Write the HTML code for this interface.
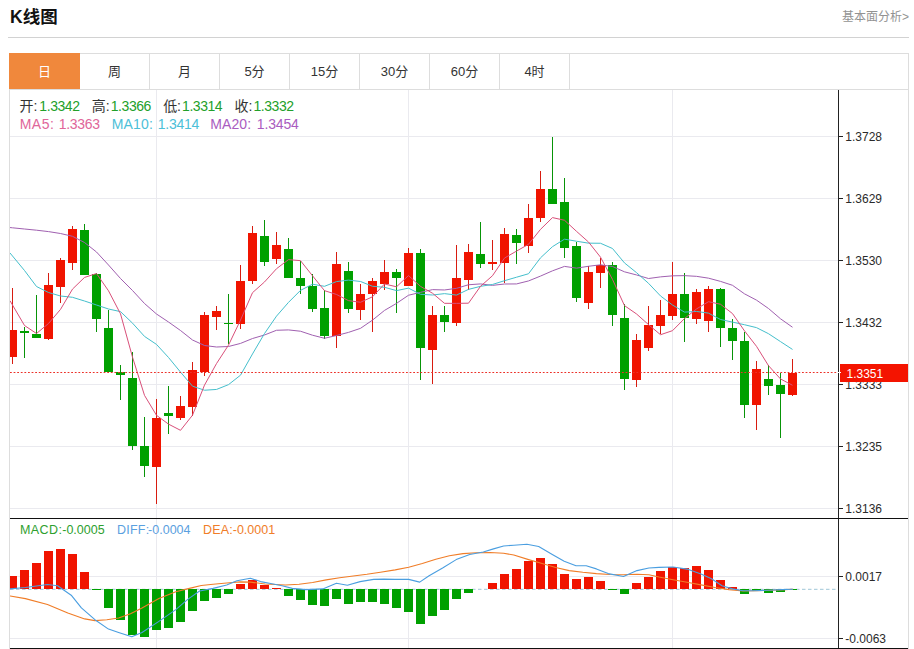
<!DOCTYPE html>
<html><head><meta charset="utf-8"><title>K线图</title>
<style>
*{margin:0;padding:0;box-sizing:border-box}
html,body{width:914px;height:649px;overflow:hidden;background:#fff}
body{position:relative;font-family:"Liberation Sans","Noto Sans CJK SC",sans-serif;color:#333}
.title{position:absolute;left:10px;top:5.6px;font-size:17.5px;font-weight:bold;color:#111;line-height:22px;letter-spacing:0}
.more{position:absolute;right:5px;top:9.5px;font-size:12px;color:#929292;line-height:14px}
.hr{position:absolute;left:8px;top:37px;width:901px;height:1px;background:#d2d2d2}
.box{position:absolute;left:9px;top:53px;width:900px;height:596px;border:1px solid #ddd;border-bottom:none}
.tabs{position:absolute;left:10px;top:54px;width:898px;height:36px;border-bottom:1px solid #ddd}
.tab{position:absolute;top:0;width:70px;height:35px;border-right:1px solid #ddd;text-align:center;line-height:35px;font-size:13px;color:#333}
.tab.on{background:#f0883c;color:#fff;border-right-color:#f0883c;left:-1px!important;top:-1px;width:71px;height:36px;line-height:37px;padding-left:1px}
svg{position:absolute;left:0;top:0}
.al{font-family:"Liberation Sans",sans-serif;font-size:12px;fill:#2a2a2a}
.ip{position:absolute;line-height:18px;white-space:nowrap}
</style></head><body>
<div class="title">K线图</div>
<div class="more">基本面分析&gt;</div>
<div class="hr"></div>
<div class="box"></div>
<div class="tabs"><div class="tab on" style="left:0px">日</div><div class="tab" style="left:70px">周</div><div class="tab" style="left:140px">月</div><div class="tab" style="left:210px">5分</div><div class="tab" style="left:280px">15分</div><div class="tab" style="left:350px">30分</div><div class="tab" style="left:420px">60分</div><div class="tab" style="left:490px">4时</div></div>
<svg width="914" height="649" viewBox="0 0 914 649">
<rect x="10" y="136" width="828" height="1" fill="#eaeaef"/>
<rect x="10" y="198" width="828" height="1" fill="#eaeaef"/>
<rect x="10" y="260" width="828" height="1" fill="#eaeaef"/>
<rect x="10" y="322" width="828" height="1" fill="#eaeaef"/>
<rect x="10" y="384" width="828" height="1" fill="#eaeaef"/>
<rect x="10" y="446" width="828" height="1" fill="#eaeaef"/>
<rect x="10" y="508" width="828" height="1" fill="#eaeaef"/>
<rect x="10" y="576" width="828" height="1" fill="#eaeaef"/>
<rect x="10" y="638" width="828" height="1" fill="#eaeaef"/>
<rect x="156" y="90" width="1" height="558" fill="#eaeaef"/>
<rect x="408" y="90" width="1" height="558" fill="#eaeaef"/>
<rect x="672" y="90" width="1" height="558" fill="#eaeaef"/>
<defs><clipPath id="cp"><rect x="10" y="90" width="828" height="428"/></clipPath><clipPath id="cp2"><rect x="10" y="519" width="828" height="129"/></clipPath></defs>
<g clip-path="url(#cp)" shape-rendering="crispEdges">
<rect x="12" y="288" width="1" height="76" fill="#d81c10"/>
<rect x="8" y="330" width="9" height="27" fill="#f01400"/>
<rect x="24" y="327" width="1" height="31" fill="#089408"/>
<rect x="20" y="331" width="9" height="2" fill="#00a000"/>
<rect x="36" y="295" width="1" height="43" fill="#089408"/>
<rect x="32" y="334" width="9" height="4" fill="#00a000"/>
<rect x="48" y="273" width="1" height="67" fill="#d81c10"/>
<rect x="44" y="285" width="9" height="54" fill="#f01400"/>
<rect x="60" y="258" width="1" height="45" fill="#d81c10"/>
<rect x="56" y="260" width="9" height="27" fill="#f01400"/>
<rect x="72" y="226" width="1" height="44" fill="#d81c10"/>
<rect x="68" y="229" width="9" height="34" fill="#f01400"/>
<rect x="84" y="224" width="1" height="51" fill="#089408"/>
<rect x="80" y="230" width="9" height="45" fill="#00a000"/>
<rect x="96" y="273" width="1" height="59" fill="#089408"/>
<rect x="92" y="274" width="9" height="45" fill="#00a000"/>
<rect x="108" y="310" width="1" height="62" fill="#089408"/>
<rect x="104" y="328" width="9" height="44" fill="#00a000"/>
<rect x="120" y="365" width="1" height="35" fill="#089408"/>
<rect x="116" y="372" width="9" height="3" fill="#00a000"/>
<rect x="132" y="352" width="1" height="98" fill="#089408"/>
<rect x="128" y="378" width="9" height="68" fill="#00a000"/>
<rect x="144" y="417" width="1" height="60" fill="#089408"/>
<rect x="140" y="446" width="9" height="20" fill="#00a000"/>
<rect x="156" y="399" width="1" height="105" fill="#d81c10"/>
<rect x="152" y="418" width="9" height="49" fill="#f01400"/>
<rect x="168" y="386" width="1" height="48" fill="#089408"/>
<rect x="164" y="413" width="9" height="3" fill="#00a000"/>
<rect x="180" y="396" width="1" height="24" fill="#d81c10"/>
<rect x="176" y="406" width="9" height="12" fill="#f01400"/>
<rect x="192" y="362" width="1" height="54" fill="#d81c10"/>
<rect x="188" y="370" width="9" height="37" fill="#f01400"/>
<rect x="204" y="312" width="1" height="64" fill="#d81c10"/>
<rect x="200" y="315" width="9" height="57" fill="#f01400"/>
<rect x="216" y="306" width="1" height="24" fill="#d81c10"/>
<rect x="212" y="311" width="9" height="6" fill="#f01400"/>
<rect x="228" y="294" width="1" height="50" fill="#089408"/>
<rect x="224" y="323" width="9" height="1" fill="#00a000"/>
<rect x="240" y="265" width="1" height="64" fill="#d81c10"/>
<rect x="236" y="281" width="9" height="43" fill="#f01400"/>
<rect x="252" y="226" width="1" height="58" fill="#d81c10"/>
<rect x="248" y="233" width="9" height="48" fill="#f01400"/>
<rect x="264" y="220" width="1" height="46" fill="#089408"/>
<rect x="260" y="236" width="9" height="26" fill="#00a000"/>
<rect x="276" y="232" width="1" height="32" fill="#d81c10"/>
<rect x="272" y="245" width="9" height="14" fill="#f01400"/>
<rect x="288" y="238" width="1" height="40" fill="#089408"/>
<rect x="284" y="249" width="9" height="29" fill="#00a000"/>
<rect x="300" y="261" width="1" height="33" fill="#089408"/>
<rect x="296" y="278" width="9" height="8" fill="#00a000"/>
<rect x="312" y="274" width="1" height="38" fill="#089408"/>
<rect x="308" y="286" width="9" height="23" fill="#00a000"/>
<rect x="324" y="290" width="1" height="49" fill="#089408"/>
<rect x="320" y="308" width="9" height="28" fill="#00a000"/>
<rect x="336" y="252" width="1" height="96" fill="#d81c10"/>
<rect x="332" y="264" width="9" height="72" fill="#f01400"/>
<rect x="348" y="262" width="1" height="51" fill="#089408"/>
<rect x="344" y="271" width="9" height="38" fill="#00a000"/>
<rect x="360" y="284" width="1" height="36" fill="#d81c10"/>
<rect x="356" y="294" width="9" height="16" fill="#f01400"/>
<rect x="372" y="278" width="1" height="54" fill="#d81c10"/>
<rect x="368" y="281" width="9" height="13" fill="#f01400"/>
<rect x="384" y="260" width="1" height="30" fill="#d81c10"/>
<rect x="380" y="272" width="9" height="12" fill="#f01400"/>
<rect x="396" y="269" width="1" height="44" fill="#089408"/>
<rect x="392" y="272" width="9" height="6" fill="#00a000"/>
<rect x="408" y="248" width="1" height="38" fill="#d81c10"/>
<rect x="404" y="253" width="9" height="33" fill="#f01400"/>
<rect x="420" y="249" width="1" height="131" fill="#089408"/>
<rect x="416" y="253" width="9" height="95" fill="#00a000"/>
<rect x="432" y="306" width="1" height="78" fill="#d81c10"/>
<rect x="428" y="315" width="9" height="35" fill="#f01400"/>
<rect x="444" y="306" width="1" height="26" fill="#089408"/>
<rect x="440" y="315" width="9" height="7" fill="#00a000"/>
<rect x="456" y="245" width="1" height="81" fill="#d81c10"/>
<rect x="452" y="278" width="9" height="45" fill="#f01400"/>
<rect x="468" y="244" width="1" height="46" fill="#d81c10"/>
<rect x="464" y="252" width="9" height="28" fill="#f01400"/>
<rect x="480" y="222" width="1" height="46" fill="#089408"/>
<rect x="476" y="254" width="9" height="10" fill="#00a000"/>
<rect x="492" y="240" width="1" height="30" fill="#d81c10"/>
<rect x="488" y="262" width="9" height="2" fill="#f01400"/>
<rect x="504" y="228" width="1" height="55" fill="#d81c10"/>
<rect x="500" y="234" width="9" height="29" fill="#f01400"/>
<rect x="516" y="229" width="1" height="35" fill="#089408"/>
<rect x="512" y="235" width="9" height="8" fill="#00a000"/>
<rect x="528" y="204" width="1" height="49" fill="#d81c10"/>
<rect x="524" y="218" width="9" height="28" fill="#f01400"/>
<rect x="540" y="171" width="1" height="51" fill="#d81c10"/>
<rect x="536" y="189" width="9" height="29" fill="#f01400"/>
<rect x="552" y="137" width="1" height="67" fill="#089408"/>
<rect x="548" y="189" width="9" height="15" fill="#00a000"/>
<rect x="564" y="178" width="1" height="80" fill="#089408"/>
<rect x="560" y="202" width="9" height="46" fill="#00a000"/>
<rect x="576" y="242" width="1" height="60" fill="#089408"/>
<rect x="572" y="246" width="9" height="52" fill="#00a000"/>
<rect x="588" y="266" width="1" height="43" fill="#d81c10"/>
<rect x="584" y="272" width="9" height="31" fill="#f01400"/>
<rect x="600" y="258" width="1" height="30" fill="#d81c10"/>
<rect x="596" y="265" width="9" height="8" fill="#f01400"/>
<rect x="612" y="262" width="1" height="64" fill="#089408"/>
<rect x="608" y="265" width="9" height="50" fill="#00a000"/>
<rect x="624" y="304" width="1" height="86" fill="#089408"/>
<rect x="620" y="318" width="9" height="61" fill="#00a000"/>
<rect x="636" y="334" width="1" height="53" fill="#d81c10"/>
<rect x="632" y="340" width="9" height="40" fill="#f01400"/>
<rect x="648" y="306" width="1" height="45" fill="#d81c10"/>
<rect x="644" y="325" width="9" height="23" fill="#f01400"/>
<rect x="660" y="300" width="1" height="34" fill="#d81c10"/>
<rect x="656" y="315" width="9" height="11" fill="#f01400"/>
<rect x="672" y="262" width="1" height="58" fill="#d81c10"/>
<rect x="668" y="294" width="9" height="22" fill="#f01400"/>
<rect x="684" y="273" width="1" height="69" fill="#089408"/>
<rect x="680" y="294" width="9" height="24" fill="#00a000"/>
<rect x="696" y="289" width="1" height="35" fill="#d81c10"/>
<rect x="692" y="292" width="9" height="27" fill="#f01400"/>
<rect x="708" y="286" width="1" height="46" fill="#d81c10"/>
<rect x="704" y="289" width="9" height="32" fill="#f01400"/>
<rect x="720" y="288" width="1" height="59" fill="#089408"/>
<rect x="716" y="289" width="9" height="39" fill="#00a000"/>
<rect x="732" y="319" width="1" height="41" fill="#089408"/>
<rect x="728" y="328" width="9" height="13" fill="#00a000"/>
<rect x="744" y="332" width="1" height="86" fill="#089408"/>
<rect x="740" y="341" width="9" height="64" fill="#00a000"/>
<rect x="756" y="361" width="1" height="69" fill="#d81c10"/>
<rect x="752" y="369" width="9" height="36" fill="#f01400"/>
<rect x="768" y="365" width="1" height="30" fill="#089408"/>
<rect x="764" y="379" width="9" height="7" fill="#00a000"/>
<rect x="780" y="373" width="1" height="65" fill="#089408"/>
<rect x="776" y="385" width="9" height="9" fill="#00a000"/>
<rect x="792" y="359" width="1" height="37" fill="#d81c10"/>
<rect x="788" y="373" width="9" height="22" fill="#f01400"/>
</g>
<g clip-path="url(#cp)">
<polyline points="10,227.55 12.5,227.8 24.5,229 36.5,230.2 48.5,231.6 60.5,233.5 72.5,236.3 84.5,242.5 96.5,252 108.5,265 120.5,278.5 132.5,290.5 144.5,303.5 156.5,314 168.5,322 180.5,330.5 192.5,340 204.5,345.5 216.5,347 228.5,346.5 240.5,343.41 252.5,338.53 264.5,334.97 276.5,330.28 288.5,329.92 300.5,331.23 312.5,335.21 324.5,338.27 336.5,335.51 348.5,332.38 360.5,328.33 372.5,320.11 384.5,310.42 396.5,303.38 408.5,295.24 420.5,292.35 432.5,289.62 444.5,289.98 456.5,288.33 468.5,284.75 480.5,283.91 492.5,285.37 504.5,284 516.5,283.93 528.5,280.94 540.5,276.08 552.5,270.82 564.5,266.4 576.5,268.15 588.5,266.28 600.5,264.8 612.5,266.49 624.5,271.82 636.5,274.94 648.5,278.53 660.5,276.89 672.5,275.84 684.5,275.63 696.5,276.33 708.5,278.16 720.5,281.38 732.5,285.31 744.5,293.83 756.5,300.14 768.5,308.5 780.5,318.77 792.5,327.24" fill="none" stroke="#a060b0" stroke-width="1" stroke-linejoin="round"/>
<polyline points="10,252.98 12.5,256 24.5,270.5 36.5,286.5 48.5,292.5 60.5,296 72.5,297.3 84.5,301 96.5,305 108.5,309 120.5,311.62 132.5,323.13 144.5,336.4 156.5,344.41 168.5,357.46 180.5,372.08 192.5,386.18 204.5,390.23 216.5,389.44 228.5,384.63 240.5,375.2 252.5,353.94 264.5,333.53 276.5,316.15 288.5,302.37 300.5,290.37 312.5,284.23 324.5,286.31 336.5,281.58 348.5,280.12 360.5,281.47 372.5,286.28 384.5,287.31 396.5,290.62 408.5,288.11 420.5,294.32 432.5,295 444.5,293.64 456.5,295.08 468.5,289.39 480.5,286.34 492.5,284.46 504.5,280.69 516.5,277.23 528.5,273.76 540.5,257.84 552.5,246.65 564.5,239.16 576.5,241.22 588.5,243.17 600.5,243.26 612.5,248.51 624.5,262.95 636.5,272.64 648.5,283.31 660.5,295.94 672.5,305.04 684.5,312.1 696.5,311.44 708.5,313.15 720.5,319.49 732.5,322.12 744.5,324.72 756.5,327.64 768.5,333.69 780.5,341.6 792.5,349.43" fill="none" stroke="#45bfcc" stroke-width="1" stroke-linejoin="round"/>
<polyline points="10,300.73 12.5,305 24.5,325.5 36.5,333.5 48.5,323.5 60.5,309.4 72.5,289.1 84.5,277.44 96.5,273.52 108.5,290.8 120.5,313.84 132.5,357.16 144.5,395.36 156.5,415.3 168.5,424.12 180.5,430.32 192.5,415.2 204.5,385.1 216.5,363.58 228.5,345.14 240.5,320.08 252.5,292.68 264.5,281.96 276.5,268.72 288.5,259.6 300.5,260.66 312.5,275.78 324.5,290.66 336.5,294.44 348.5,300.64 360.5,302.28 372.5,296.78 384.5,283.96 396.5,286.8 408.5,275.58 420.5,286.36 432.5,293.22 444.5,303.32 456.5,303.36 468.5,303.2 480.5,286.32 492.5,275.7 504.5,258.06 516.5,251.1 528.5,244.32 540.5,229.36 552.5,217.6 564.5,220.26 576.5,231.34 588.5,242.02 600.5,257.16 612.5,279.42 624.5,305.64 636.5,313.94 648.5,324.6 660.5,334.72 672.5,330.66 684.5,318.56 696.5,308.94 708.5,301.7 720.5,304.26 732.5,313.58 744.5,330.88 756.5,346.34 768.5,365.68 780.5,378.94 792.5,385.28" fill="none" stroke="#d9507a" stroke-width="1" stroke-linejoin="round"/>
</g>
<line x1="10" y1="372.5" x2="838" y2="372.5" stroke="#ec3028" stroke-width="1" stroke-dasharray="1.8 1.8"/>
<g clip-path="url(#cp2)" shape-rendering="crispEdges">
<line x1="10" y1="589.3" x2="838" y2="589.3" stroke="#9fc6d8" stroke-width="1" stroke-dasharray="3.5 2.5" shape-rendering="auto"/>
<rect x="8" y="576" width="9" height="13" fill="#f01400"/>
<rect x="20" y="570" width="9" height="19" fill="#f01400"/>
<rect x="32" y="563" width="9" height="26" fill="#f01400"/>
<rect x="44" y="551" width="9" height="38" fill="#f01400"/>
<rect x="56" y="549" width="9" height="40" fill="#f01400"/>
<rect x="68" y="554" width="9" height="35" fill="#f01400"/>
<rect x="80" y="572" width="9" height="17" fill="#f01400"/>
<rect x="92" y="589" width="9" height="1" fill="#00a000"/>
<rect x="104" y="589" width="9" height="19" fill="#00a000"/>
<rect x="116" y="589" width="9" height="31" fill="#00a000"/>
<rect x="128" y="589" width="9" height="46" fill="#00a000"/>
<rect x="140" y="589" width="9" height="48" fill="#00a000"/>
<rect x="152" y="589" width="9" height="41" fill="#00a000"/>
<rect x="164" y="589" width="9" height="39" fill="#00a000"/>
<rect x="176" y="589" width="9" height="33" fill="#00a000"/>
<rect x="188" y="589" width="9" height="22" fill="#00a000"/>
<rect x="200" y="589" width="9" height="12" fill="#00a000"/>
<rect x="212" y="589" width="9" height="9" fill="#00a000"/>
<rect x="224" y="589" width="9" height="5" fill="#00a000"/>
<rect x="236" y="584" width="9" height="5" fill="#f01400"/>
<rect x="248" y="580" width="9" height="9" fill="#f01400"/>
<rect x="260" y="585" width="9" height="4" fill="#f01400"/>
<rect x="272" y="588" width="9" height="1" fill="#f01400"/>
<rect x="284" y="589" width="9" height="7" fill="#00a000"/>
<rect x="296" y="589" width="9" height="11" fill="#00a000"/>
<rect x="308" y="589" width="9" height="16" fill="#00a000"/>
<rect x="320" y="589" width="9" height="17" fill="#00a000"/>
<rect x="332" y="589" width="9" height="10" fill="#00a000"/>
<rect x="344" y="589" width="9" height="15" fill="#00a000"/>
<rect x="356" y="589" width="9" height="13" fill="#00a000"/>
<rect x="368" y="589" width="9" height="13" fill="#00a000"/>
<rect x="380" y="589" width="9" height="15" fill="#00a000"/>
<rect x="392" y="589" width="9" height="19" fill="#00a000"/>
<rect x="404" y="589" width="9" height="23" fill="#00a000"/>
<rect x="416" y="589" width="9" height="35" fill="#00a000"/>
<rect x="428" y="589" width="9" height="27" fill="#00a000"/>
<rect x="440" y="589" width="9" height="21" fill="#00a000"/>
<rect x="452" y="589" width="9" height="10" fill="#00a000"/>
<rect x="464" y="589" width="9" height="4" fill="#00a000"/>
<rect x="488" y="583" width="9" height="6" fill="#f01400"/>
<rect x="500" y="574" width="9" height="15" fill="#f01400"/>
<rect x="512" y="569" width="9" height="20" fill="#f01400"/>
<rect x="524" y="561" width="9" height="28" fill="#f01400"/>
<rect x="536" y="558" width="9" height="31" fill="#f01400"/>
<rect x="548" y="564" width="9" height="25" fill="#f01400"/>
<rect x="560" y="574" width="9" height="15" fill="#f01400"/>
<rect x="572" y="579" width="9" height="10" fill="#f01400"/>
<rect x="584" y="577" width="9" height="12" fill="#f01400"/>
<rect x="596" y="581" width="9" height="8" fill="#f01400"/>
<rect x="608" y="589" width="9" height="1" fill="#00a000"/>
<rect x="620" y="589" width="9" height="5" fill="#00a000"/>
<rect x="632" y="583" width="9" height="6" fill="#f01400"/>
<rect x="644" y="577" width="9" height="12" fill="#f01400"/>
<rect x="656" y="571" width="9" height="18" fill="#f01400"/>
<rect x="668" y="567" width="9" height="22" fill="#f01400"/>
<rect x="680" y="568" width="9" height="21" fill="#f01400"/>
<rect x="692" y="566" width="9" height="23" fill="#f01400"/>
<rect x="704" y="570" width="9" height="19" fill="#f01400"/>
<rect x="716" y="580" width="9" height="9" fill="#f01400"/>
<rect x="728" y="587" width="9" height="2" fill="#f01400"/>
<rect x="740" y="589" width="9" height="5" fill="#00a000"/>
<rect x="752" y="589" width="9" height="2" fill="#00a000"/>
<rect x="764" y="589" width="9" height="4" fill="#00a000"/>
<rect x="776" y="589" width="9" height="3" fill="#00a000"/>
<rect x="788" y="589" width="9" height="1" fill="#00a000"/>
</g>
<g clip-path="url(#cp2)">
<polyline points="10.2,596 25.4,598.6 47.5,604.5 67.8,613 84.7,618.9 94.9,620.6 106.8,619.7 118.6,618 130.5,613.8 142,607.9 158.9,598.6 175.8,591.8 189.4,588.4 201.3,585.5 213.1,584.2 226.7,583 240.3,581.9 250.4,582.1 265,584 285.5,585 299.1,584.2 312.6,582.5 326.2,579.9 339.7,577.7 353.3,576 366.9,574.3 380.4,572.3 395.2,569.9 408.7,567.2 422.3,563.5 435.8,559.2 449.4,555.7 463,553.6 476.5,552.8 490.1,552.5 503.6,553.3 513.8,555 528.6,559.6 542.1,563.5 555.7,567.5 569.2,570.6 582.8,572.3 596.4,573.6 609.9,574.5 623.5,574.8 637,574.3 648.9,574.8 659,577 673,579.7 687,582.3 701,584.9 715,587.5 729,589.6 743,591 757,590.7 771,590.2 785,589.6 792.5,589.3" fill="none" stroke="#f07d28" stroke-width="1.1" stroke-linejoin="round" stroke-linecap="round"/>
<polyline points="10.2,588.9 25.4,587.5 47.5,584.5 57.6,585.8 71.2,595.2 81.4,607.9 94.9,619.7 108.5,629.1 118.6,632.5 131.8,636.7 142,632.5 158.9,621.4 175.8,609.6 187.7,599.4 199.6,591 213.1,588.4 226.7,585 236.9,580.8 250.4,578.2 260.6,581.6 272,583.8 282.1,585.8 292.3,588.4 305.8,589.6 322.8,588.9 336.4,583.3 347.4,585.3 360.1,581.6 373.6,579.4 383.8,579.1 395,579.4 408.7,579.4 419.7,582.1 429.1,575.7 442.6,568 456.2,559.6 469.7,554.5 483.3,552 493.5,548.9 503.6,546 513.8,545.2 526.9,544.3 538.7,546.5 552.3,554.5 564.2,561.3 576,565.8 586.2,565.8 596.4,568.9 608.2,573.6 623.5,576.5 637,570.6 648.9,568 659,567.4 673,567 687,569.1 701,573.9 711.5,578.8 722,585.8 732.6,588.9 743,590.7 753.6,590.7 767.6,590.2 781.6,589.6 792.5,589.3" fill="none" stroke="#4a9ee0" stroke-width="1.1" stroke-linejoin="round" stroke-linecap="round"/>
</g>
<rect x="838" y="90" width="1" height="428" fill="#222"/>
<rect x="838" y="519" width="1" height="129" fill="#222"/>
<rect x="10" y="518" width="898" height="1" fill="#111"/>
<rect x="10" y="648" width="898" height="1" fill="#111"/>
<rect x="838" y="136" width="5" height="1" fill="#222"/>
<text x="845.3" y="140.8" class="al">1.3728</text>
<rect x="838" y="198" width="5" height="1" fill="#222"/>
<text x="845.3" y="202.8" class="al">1.3629</text>
<rect x="838" y="260" width="5" height="1" fill="#222"/>
<text x="845.3" y="264.8" class="al">1.3530</text>
<rect x="838" y="322" width="5" height="1" fill="#222"/>
<text x="845.3" y="326.8" class="al">1.3432</text>
<rect x="838" y="384" width="5" height="1" fill="#222"/>
<text x="845.3" y="388.8" class="al">1.3333</text>
<rect x="838" y="446" width="5" height="1" fill="#222"/>
<text x="845.3" y="450.8" class="al">1.3235</text>
<rect x="838" y="508" width="5" height="1" fill="#222"/>
<text x="845.3" y="512.8" class="al">1.3136</text>
<rect x="838" y="576" width="5" height="1" fill="#222"/>
<text x="845.3" y="580.8" class="al">0.0017</text>
<rect x="838" y="638" width="5" height="1" fill="#222"/>
<text x="845.3" y="642.8" class="al">-0.0063</text>
<rect x="840" y="364" width="68" height="18" fill="#f41400"/>
<rect x="838" y="372" width="3" height="1" fill="#fff"/>
<text x="846.5" y="377.5" class="al" fill="#fff" style="fill:#fff">1.3351</text>
</svg>
<span class="ip" style="left:19.54px;top:97px;font-size:14px;letter-spacing:0px;color:#333">开:</span><span class="ip" style="left:39.37px;top:97px;font-size:14px;letter-spacing:-0.45px;color:#22a02a">1.3342</span><span class="ip" style="left:91.84px;top:97px;font-size:14px;letter-spacing:0px;color:#333">高:</span><span class="ip" style="left:110.77px;top:97px;font-size:14px;letter-spacing:-0.45px;color:#22a02a">1.3366</span><span class="ip" style="left:163.14px;top:97px;font-size:14px;letter-spacing:0px;color:#333">低:</span><span class="ip" style="left:182.07px;top:97px;font-size:14px;letter-spacing:-0.45px;color:#22a02a">1.3314</span><span class="ip" style="left:234.54px;top:97px;font-size:14px;letter-spacing:0px;color:#333">收:</span><span class="ip" style="left:253.47px;top:97px;font-size:14px;letter-spacing:-0.45px;color:#22a02a">1.3332</span><span class="ip" style="left:19.68px;top:114.5px;font-size:14px;letter-spacing:0.5px;color:#e0669a">MA5:</span><span class="ip" style="left:58.77px;top:114.5px;font-size:14px;letter-spacing:-0.3px;color:#e0669a">1.3363</span><span class="ip" style="left:111.68px;top:114.5px;font-size:14px;letter-spacing:0.2px;color:#4cc0d8">MA10:</span><span class="ip" style="left:157.77px;top:114.5px;font-size:14px;letter-spacing:-0.25px;color:#4cc0d8">1.3414</span><span class="ip" style="left:210.28px;top:114.5px;font-size:14px;letter-spacing:0.1px;color:#a95cc0">MA20:</span><span class="ip" style="left:256.77px;top:114.5px;font-size:14px;letter-spacing:-0.15px;color:#a95cc0">1.3454</span><span class="ip" style="left:20.00px;top:521.3px;font-size:12.5px;letter-spacing:0.4px;color:#2ea02e">MACD:</span><span class="ip" style="left:62.23px;top:521.3px;font-size:12.5px;letter-spacing:0px;color:#2ea02e">-0.0005</span><span class="ip" style="left:117.10px;top:521.3px;font-size:12.5px;letter-spacing:0.2px;color:#5aa0e0">DIFF:</span><span class="ip" style="left:148.12px;top:521.3px;font-size:12.5px;letter-spacing:0px;color:#5aa0e0">-0.0004</span><span class="ip" style="left:203.00px;top:521.3px;font-size:12.5px;letter-spacing:0.2px;color:#f07d28">DEA:</span><span class="ip" style="left:232.72px;top:521.3px;font-size:12.5px;letter-spacing:0px;color:#f07d28">-0.0001</span>
</body></html>
